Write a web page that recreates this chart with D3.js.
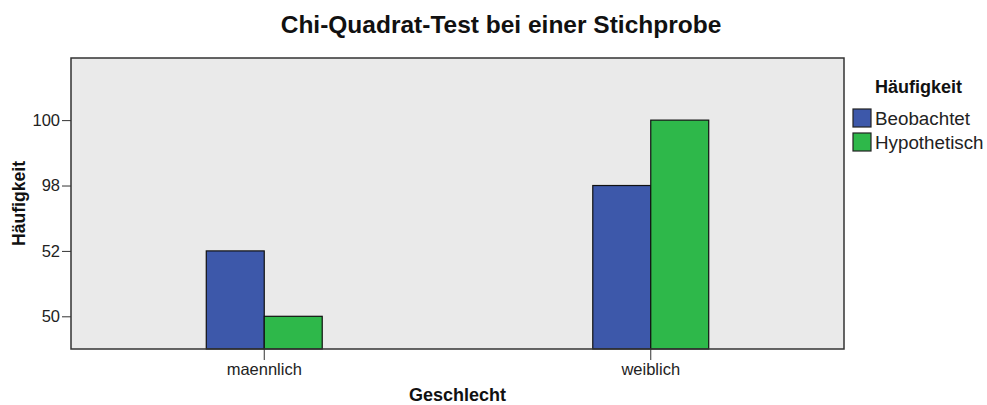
<!DOCTYPE html>
<html>
<head>
<meta charset="utf-8">
<script src="https://cdn.jsdelivr.net/npm/d3@7"></script>
<style>
  body { margin: 0; background: #fff; }
  svg { display: block; font-family: "Liberation Sans", Arial, sans-serif; }
</style>
</head>
<body>
<svg id="chart" width="987" height="405"></svg>
<script>
// values
var categories = ['maennlich', 'weiblich'];
var seriesNames = ['Beobachtet', 'Hypothetisch'];
var beobachtet = [52, 98];
var hypothetisch = [50, 100];
var yTickLabels = ['50', '52', '98', '100'];   // SPSS uses the distinct values as ordinal levels
var colors = ['#3d58aa', '#2eb84a'];

var margin = {top: 58, right: 143, bottom: 56, left: 71},
    width = 987 - margin.left - margin.right,
    height = 405 - margin.top - margin.bottom;

var svg = d3.select('#chart');
var g = svg.append('g').attr('transform', 'translate(' + margin.left + ',' + margin.top + ')');

var x0 = d3.scaleBand().domain(categories).range([0, width]).padding(0);
var x1 = d3.scaleBand().domain(seriesNames).range([0, x0.bandwidth() * 0.3]);

// ordinal y: half a step under the lowest level, one step above the highest
var step = height / 4.45;
var y = d3.scalePoint().domain(yTickLabels)
    .range([height - step / 2, height - step / 2 - step * (yTickLabels.length - 1)]);

var rows = [];
categories.forEach(function(c, i) {
  rows.push({cat: c, s: seriesNames[0], v: beobachtet[i], col: colors[0]});
  rows.push({cat: c, s: seriesNames[1], v: hypothetisch[i], col: colors[1]});
});

// plot background
g.append('rect').attr('width', width).attr('height', height).attr('fill', '#eaeaea');

g.selectAll('rect.bar').data(rows).enter().append('rect')
  .attr('class', 'bar')
  .attr('x', function(d) { return x0(d.cat) + x0.bandwidth() / 2 - x1.range()[1] / 2 + x1(d.s); })
  .attr('y', function(d) { return y(String(d.v)); })
  .attr('width', x1.bandwidth())
  .attr('height', function(d) { return height - y(String(d.v)); })
  .attr('fill', function(d) { return d.col; })
  .attr('stroke', '#111')
  .attr('stroke-width', 1.2);

// frame
g.append('rect').attr('width', width).attr('height', height)
  .attr('fill', 'none').attr('stroke', '#333').attr('stroke-width', 1.5);

var yAxis = g.append('g').call(d3.axisLeft(y).tickSize(9).tickPadding(2));
yAxis.select('.domain').remove();
yAxis.selectAll('line').attr('stroke', '#333');
yAxis.selectAll('text').attr('font-size', 16.5).attr('fill', '#222')
  .attr('font-family', '"Liberation Sans", Arial, sans-serif');

var xAxis = g.append('g').attr('transform', 'translate(0,' + height + ')')
  .call(d3.axisBottom(x0).tickSize(11).tickPadding(3));
xAxis.select('.domain').remove();
xAxis.selectAll('line').attr('stroke', '#333');
xAxis.selectAll('text').attr('font-size', 16.5).attr('fill', '#222')
  .attr('font-family', '"Liberation Sans", Arial, sans-serif');

// titles
svg.append('text').attr('x', 501).attr('y', 33).attr('text-anchor', 'middle')
  .attr('font-size', 24.5).attr('font-weight', 'bold').attr('fill', '#111')
  .text('Chi-Quadrat-Test bei einer Stichprobe');

svg.append('text').attr('x', margin.left + width / 2).attr('y', 401).attr('text-anchor', 'middle')
  .attr('font-size', 18).attr('font-weight', 'bold').attr('fill', '#111')
  .text('Geschlecht');

svg.append('text')
  .attr('transform', 'translate(25,' + (margin.top + height / 2) + ') rotate(-90)')
  .attr('text-anchor', 'middle')
  .attr('font-size', 17.6).attr('font-weight', 'bold').attr('fill', '#111')
  .text('Häufigkeit');

// legend
var legend = svg.append('g').attr('transform', 'translate(853,0)');
legend.append('text').attr('x', 65.5).attr('y', 93).attr('text-anchor', 'middle')
  .attr('font-size', 18).attr('font-weight', 'bold').attr('fill', '#111')
  .text('Häufigkeit');
var item = legend.selectAll('g.item').data(seriesNames).enter().append('g')
  .attr('class', 'item')
  .attr('transform', function(d, i) { return 'translate(0,' + (109 + i * 24) + ')'; });
item.append('rect').attr('width', 18).attr('height', 18)
  .attr('fill', function(d, i) { return colors[i]; })
  .attr('stroke', '#222').attr('stroke-width', 1.2);
item.append('text').attr('x', 22).attr('y', 16).attr('font-size', 18.8).attr('fill', '#222')
  .text(function(d) { return d; });
</script>
</body>
</html>
